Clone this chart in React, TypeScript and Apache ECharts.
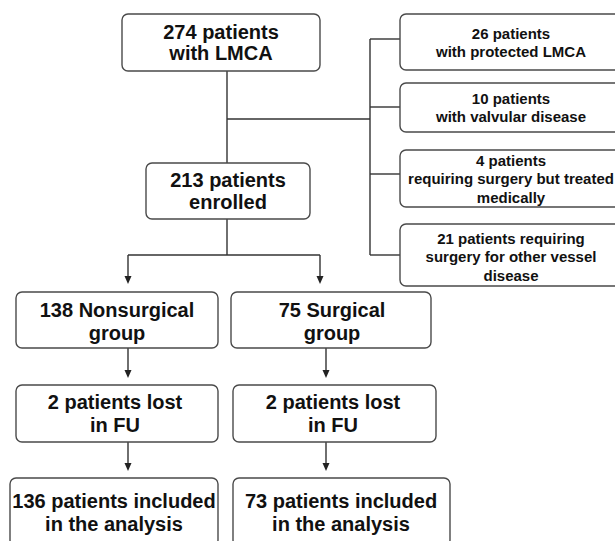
import React, { useEffect, useRef } from "react";
import * as echarts from "echarts";

// Flowchart contents (texts only)
const mainSteps = ["274 patients\nwith LMCA", "213 patients\nenrolled"];
const excludedGroups = [
  "26 patients\nwith protected LMCA",
  "10 patients\nwith valvular disease",
  "4 patients\nrequiring surgery but treated\nmedically",
  "21 patients requiring\nsurgery for other vessel\ndisease",
];
const nonsurgicalPath = [
  "138 Nonsurgical\ngroup",
  "2 patients lost\nin FU",
  "136 patients included\nin the analysis",
];
const surgicalPath = [
  "75 Surgical\ngroup",
  "2 patients lost\nin FU",
  "73 patients included\nin the analysis",
];

// Layout (positions/sizes)
type Box = { x: number; y: number; w: number; h: number };
const mainBoxes: Box[] = [
  { x: 122, y: 14, w: 198, h: 57 },
  { x: 146, y: 163, w: 164, h: 56 },
];
const exclBoxes: Box[] = [
  { x: 400, y: 14, w: 224, h: 56 },
  { x: 400, y: 83, w: 224, h: 49 },
  { x: 400, y: 150, w: 224, h: 57 },
  { x: 400, y: 224, w: 224, h: 62 },
];
const leftBoxes: Box[] = [
  { x: 16, y: 292, w: 202, h: 56 },
  { x: 16, y: 385, w: 202, h: 57 },
  { x: 10, y: 478, w: 208, h: 68 },
];
const rightBoxes: Box[] = [
  { x: 231, y: 292, w: 200, h: 56 },
  { x: 233, y: 385, w: 203, h: 57 },
  { x: 233, y: 478, w: 217, h: 68 },
];

const LINE = "#333";
const BORDER = "#4a4a4a";
const TEXT = "#111";
const FONT = '"Liberation Sans", Arial, sans-serif';

function boxEls(b: Box, text: string, size: number, lh: number, cx?: number, cy?: number) {
  return [
    {
      type: "rect",
      shape: { x: b.x, y: b.y, width: b.w, height: b.h, r: 6 },
      style: { fill: "#fff", stroke: BORDER, lineWidth: 1.4 },
      z: 2,
    },
    {
      type: "text",
      x: cx ?? b.x + b.w / 2,
      y: cy ?? b.y + b.h / 2,
      style: {
        text,
        fill: TEXT,
        font: `bold ${size}px ${FONT}`,
        align: "center",
        verticalAlign: "middle",
        textAlign: "center",
        textVerticalAlign: "middle",
        lineHeight: lh,
      },
      z: 3,
    },
  ];
}

function line(x1: number, y1: number, x2: number, y2: number) {
  return {
    type: "line",
    shape: { x1, y1, x2, y2 },
    style: { stroke: LINE, lineWidth: 1.4 },
    z: 1,
  };
}

function arrow(x: number, y1: number, tipY: number) {
  return [
    line(x, y1, x, tipY - 6),
    {
      type: "polygon",
      shape: { points: [[x - 3.5, tipY - 8], [x + 3.5, tipY - 8], [x, tipY]] },
      style: { fill: "#222" },
      z: 1,
    },
  ];
}

export default function App() {
  const ref = useRef<HTMLDivElement>(null);
  useEffect(() => {
    document.body.style.margin = "0";
    if (!ref.current) return;
    const chart = echarts.init(ref.current, undefined, { renderer: "svg" });
    const els: any[] = [];

    // main trunk
    els.push(line(227, 71, 227, 163));
    els.push(line(227, 119, 370, 119));
    els.push(line(370, 39, 370, 255));
    const connY = [39, 107, 174, 255];
    connY.forEach((y) => els.push(line(370, y, 400, y)));
    els.push(line(227, 219, 227, 255));
    els.push(line(128, 255, 320, 255));
    els.push(...arrow(128, 255, 284));
    els.push(...arrow(320, 255, 284));
    els.push(...arrow(128, 348, 378));
    els.push(...arrow(326, 348, 378));
    els.push(...arrow(128, 442, 471));
    els.push(...arrow(326, 442, 471));

    els.push(...boxEls(mainBoxes[0], mainSteps[0], 20, 21.5, 221, 42.5));
    els.push(...boxEls(mainBoxes[1], mainSteps[1], 20, 22, 228, 191.3));
    excludedGroups.forEach((t, i) => {
      const b = exclBoxes[i];
      const cy = [42.5, 107.2, 178.9, 256.7][i];
      els.push(...boxEls(b, t, 15, 18.4, 511, cy));
    });
    const leftCy = [321, 413.3, 512.3];
    const rightCy = [321, 413.3, 512.3];
    const leftCx = [117, 115, 114];
    const rightCx = [332, 333, 341];
    nonsurgicalPath.forEach((t, i) => els.push(...boxEls(leftBoxes[i], t, 20, 23, leftCx[i], leftCy[i])));
    surgicalPath.forEach((t, i) => els.push(...boxEls(rightBoxes[i], t, 20, 23, rightCx[i], rightCy[i])));

    chart.setOption({
      animation: false,
      backgroundColor: "#fff",
      graphic: els,
    });
    return () => chart.dispose();
  }, []);
  return (
    <div
      ref={ref}
      style={{ position: "fixed", left: 0, top: 0, width: 615, height: 541 }}
    />
  );
}
